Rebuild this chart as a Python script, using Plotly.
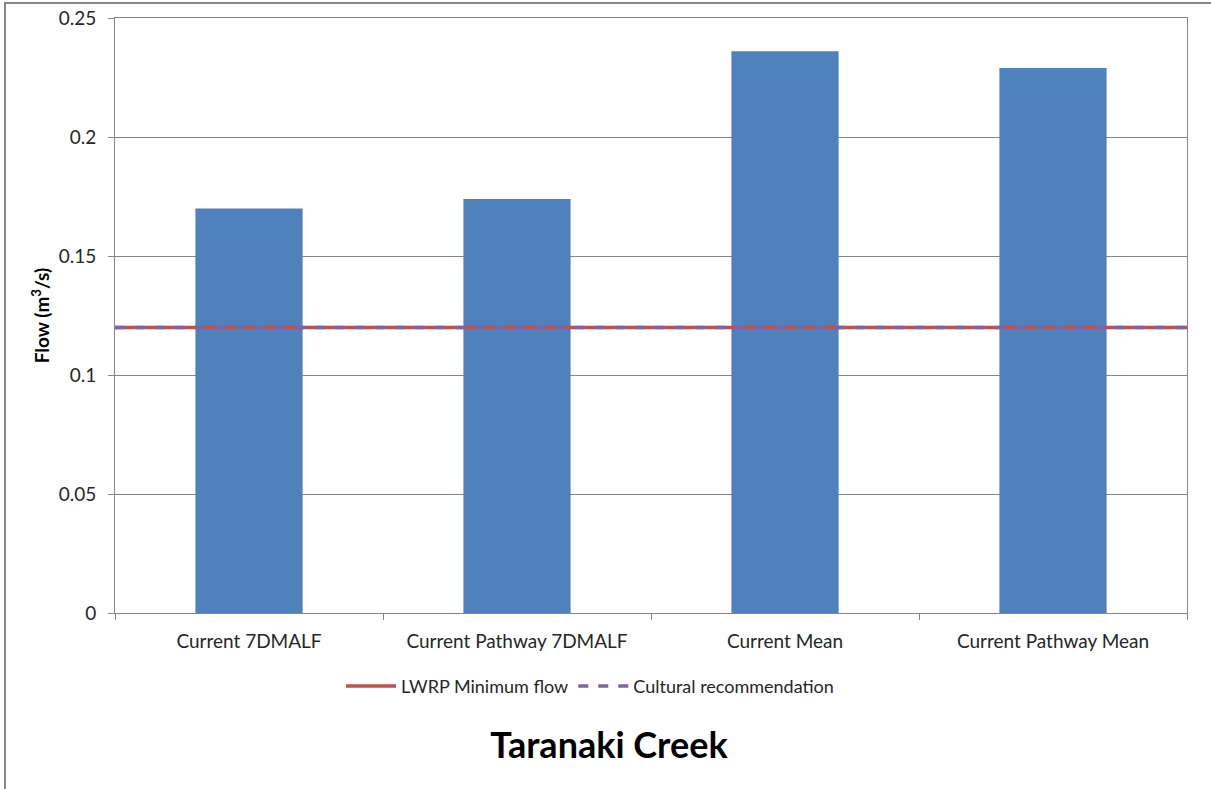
import plotly.graph_objects as go

categories = ['Current 7DMALF', 'Current Pathway 7DMALF', 'Current Mean', 'Current Pathway Mean']
flows = [0.170, 0.174, 0.236, 0.229]
lwrp_min = [0.12, 0.12]
cultural = [0.12, 0.12]
y_ticks = [0, 0.05, 0.1, 0.15, 0.2, 0.25]
y_labels = ['0', '0.05', '0.1', '0.15', '0.2', '0.25']

font_family = 'Lato, Open Sans, sans-serif'

graphs = [
    go.Bar(
        x=categories,
        y=flows,
        marker=dict(color='#4F81BD', line=dict(width=0)),
        showlegend=False,
        name='Flow',
    ),
    go.Scatter(
        x=[0, 1],
        y=lwrp_min,
        xaxis='x2',
        mode='lines',
        line=dict(color='#C0504D', width=3.5),
        name='LWRP Minimum flow',
    ),
    go.Scatter(
        x=[0, 1],
        y=cultural,
        xaxis='x2',
        mode='lines',
        line=dict(color='#8064A2', width=3.5, dash='10px,10px'),
        name='Cultural recommendation',
    ),
]

layout = go.Layout(
    width=1211,
    height=789,
    margin=dict(l=115, r=24, t=18, b=176),
    paper_bgcolor='white',
    plot_bgcolor='white',
    bargap=0.6,
    font=dict(family=font_family, size=19, color='#262626'),
    title=dict(
        text='<b>Taranaki Creek</b>',
        x=609 / 1211,
        xanchor='center',
        y=1 - 745 / 789,
        yanchor='middle',
        font=dict(size=36, color='black', family=font_family),
    ),
    xaxis=dict(
        showgrid=False,
        showline=True,
        linecolor='#868686',
        linewidth=1,
        ticks='outside',
        tickson='boundaries',
        ticklen=6,
        tickcolor='#868686',
        tickfont=dict(size=19),
        ticklabelstandoff=11,
        tickangle=0,
        mirror=True,
        automargin=False,
    ),
    xaxis2=dict(
        overlaying='x',
        range=[0, 1],
        visible=False,
    ),
    yaxis=dict(
        range=[0, 0.25],
        tickvals=y_ticks,
        ticktext=y_labels,
        showgrid=True,
        gridcolor='#868686',
        gridwidth=1,
        showline=True,
        linecolor='#868686',
        ticks='outside',
        ticklen=6,
        tickcolor='#868686',
        tickfont=dict(size=19),
        ticklabelstandoff=8,
        mirror=True,
        zeroline=False,
        automargin=False,
        title=dict(text='<b>Flow (m<sup>3</sup>/s)</b>', font=dict(size=19, color='black'), standoff=4),
    ),
    legend=dict(
        orientation='h',
        x=(590 - 115) / 1072,
        xanchor='center',
        y=-0.123,
        yanchor='middle',
        font=dict(size=18),
        itemwidth=50,
    ),
    shapes=[
        dict(
            type='rect', xref='paper', yref='paper',
            x0=-110 / 1072, x1=1.5, y0=-1.0, y1=1 + 15 / 595,
            line=dict(color='#868686', width=2), layer='below',
        )
    ],
)

fig = go.Figure(data=graphs, layout=layout)
# drop the default page margin so the figure fills the window exactly
fig.write_html('out.html', config={'displayModeBar': False},
               post_script="document.body.style.margin='0';")
